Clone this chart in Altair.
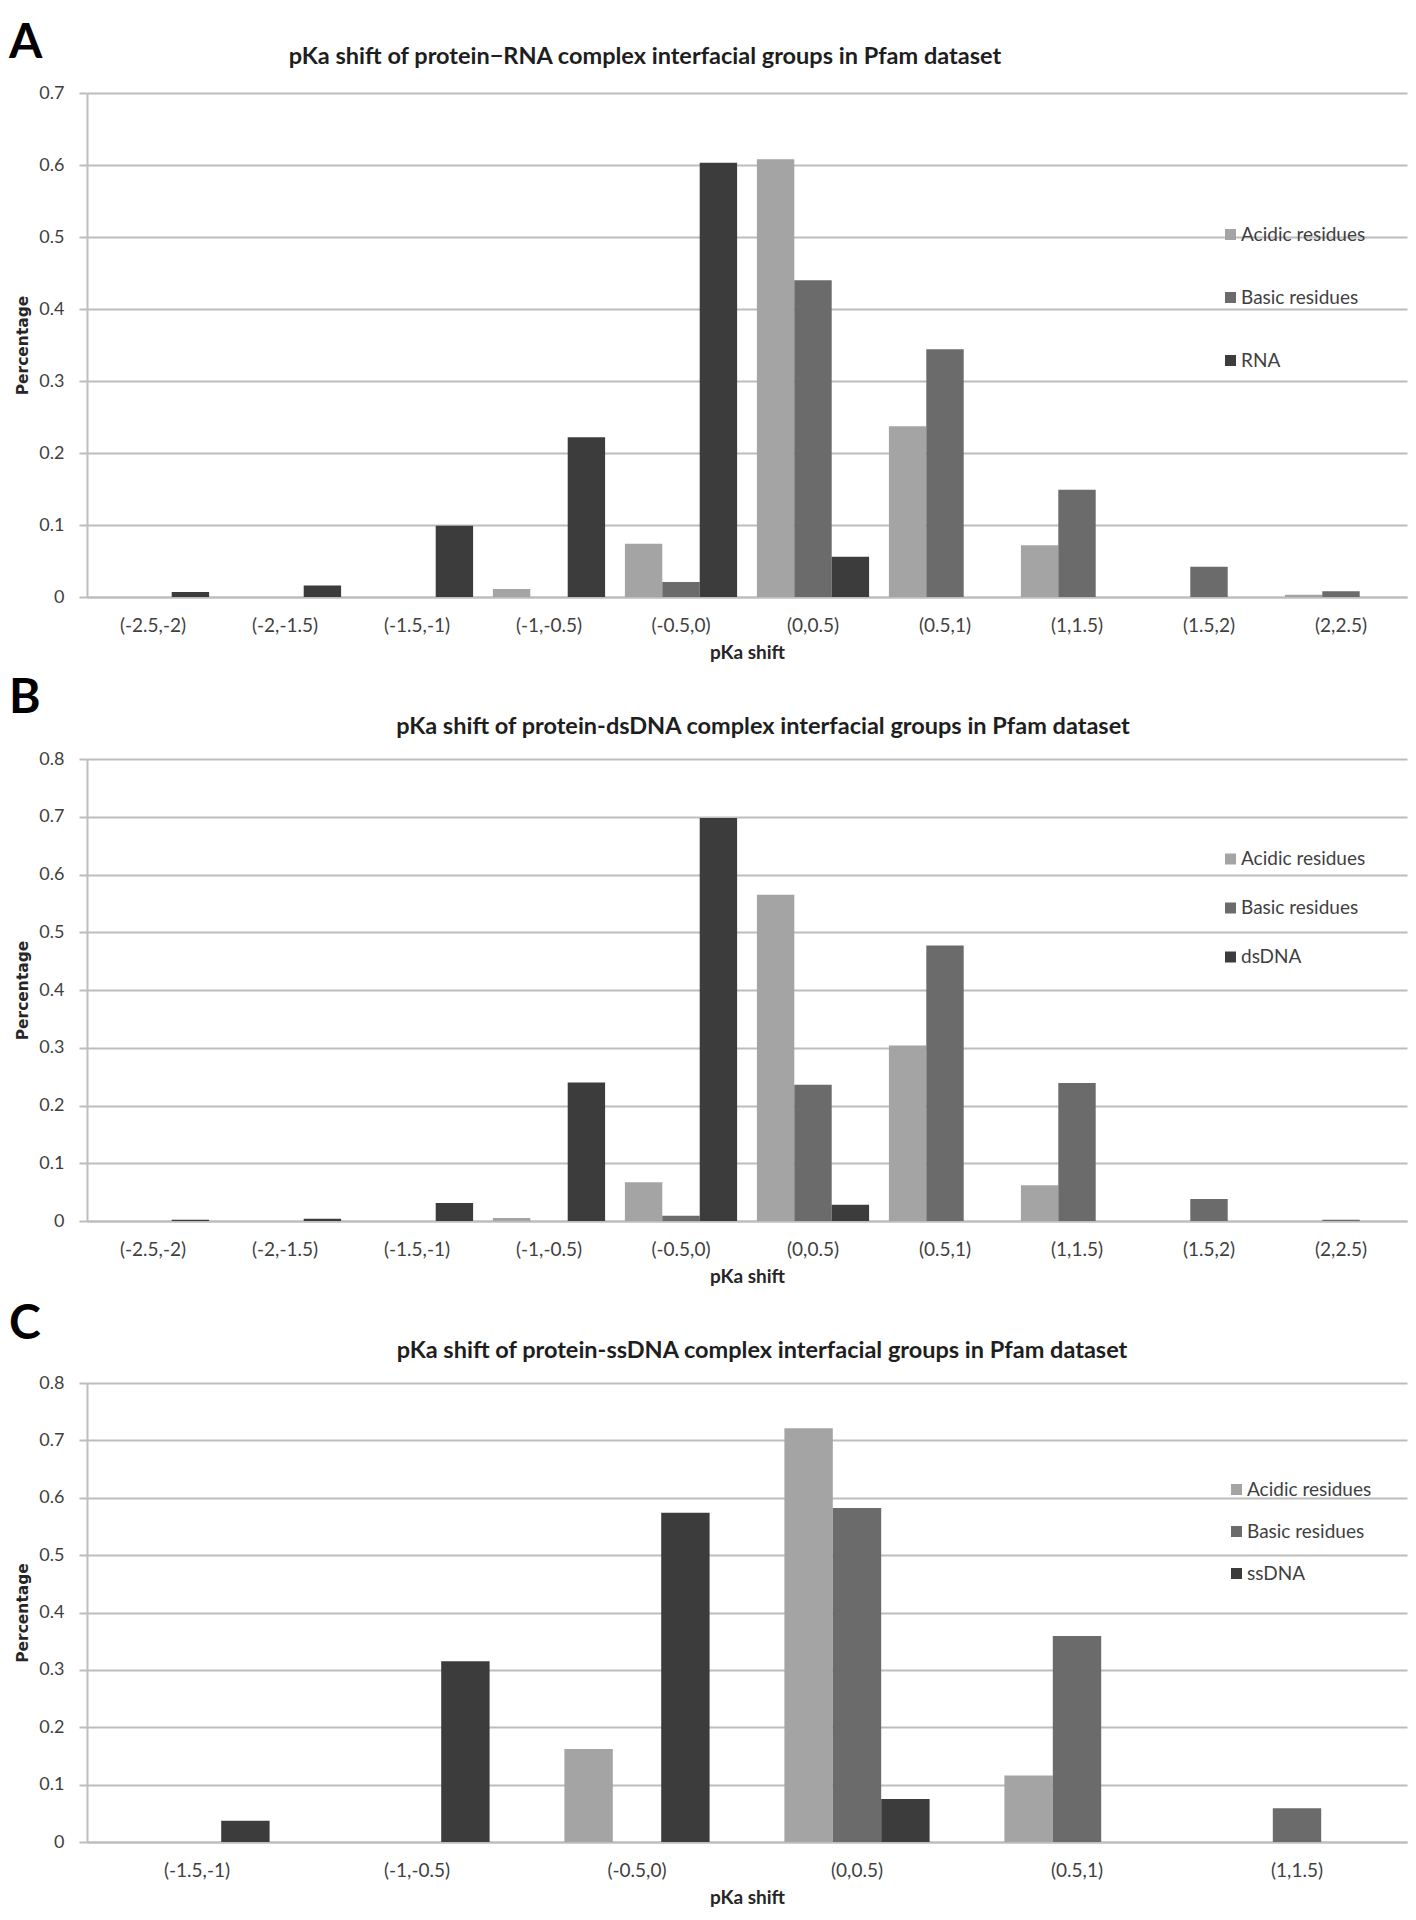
import altair as alt
import pandas as pd

# ---------------- data ----------------
cats_ab = ["(-2.5,-2)", "(-2,-1.5)", "(-1.5,-1)", "(-1,-0.5)", "(-0.5,0)",
           "(0,0.5)", "(0.5,1)", "(1,1.5)", "(1.5,2)", "(2,2.5)"]
cats_c = ["(-1.5,-1)", "(-1,-0.5)", "(-0.5,0)", "(0,0.5)", "(0.5,1)", "(1,1.5)"]

acidic_a = [0, 0, 0, 0.011, 0.074, 0.608, 0.237, 0.072, 0, 0.003]
basic_a = [0, 0, 0, 0, 0.021, 0.440, 0.344, 0.149, 0.042, 0.008]
rna_a = [0.007, 0.016, 0.099, 0.222, 0.603, 0.056, 0, 0, 0, 0]

acidic_b = [0, 0, 0, 0.005, 0.067, 0.565, 0.304, 0.062, 0, 0]
basic_b = [0, 0, 0, 0, 0.009, 0.236, 0.477, 0.239, 0.038, 0.002]
dsdna_b = [0.002, 0.004, 0.031, 0.240, 0.698, 0.028, 0, 0, 0, 0]

acidic_c = [0, 0, 0.162, 0.721, 0.116, 0]
basic_c = [0, 0, 0, 0.582, 0.359, 0.059]
ssdna_c = [0.037, 0.315, 0.574, 0.075, 0, 0]

series_a = ["Acidic residues", "Basic residues", "RNA"]
series_b = ["Acidic residues", "Basic residues", "dsDNA"]
series_c = ["Acidic residues", "Basic residues", "ssDNA"]

ticks_a = [0, 0.1, 0.2, 0.3, 0.4, 0.5, 0.6, 0.7]
ticks_bc = [0, 0.1, 0.2, 0.3, 0.4, 0.5, 0.6, 0.7, 0.8]

title_a = "pKa shift of protein\u2212RNA complex interfacial groups in Pfam dataset"
title_b = "pKa shift of protein-dsDNA complex interfacial groups in Pfam dataset"
title_c = "pKa shift of protein-ssDNA complex interfacial groups in Pfam dataset"

colors = ["#a4a4a4", "#6b6b6b", "#3c3c3c"]
FONT = "Lato"
GRID = "#bdbdbd"
W = 1320


def frame(cats, series, columns):
    rows = []
    for s, vals in zip(series, columns):
        for c, v in zip(cats, vals):
            if v > 0:
                rows.append({"cat": c, "series": s, "value": v})
    return pd.DataFrame(rows)


def panel(cats, series, columns, ymax, ticks, height, pad_inner,
          title, title_x, title_y, letter, letter_y,
          leg_x, leg_y, leg_pad):
    df = frame(cats, series, columns)
    bars = alt.Chart(df).mark_bar(strokeWidth=0).encode(
        x=alt.X("cat:N", sort=cats,
                scale=alt.Scale(domain=cats, paddingInner=pad_inner,
                                paddingOuter=pad_inner / 2),
                axis=alt.Axis(title="pKa shift", labelAngle=0, ticks=False,
                              tickSize=0, labelPadding=19, labelFont=FONT,
                              labelFontSize=19, labelColor="#3f3f3f",
                              titleFont=FONT, titleFontSize=19,
                              titleFontWeight="bold", titleColor="#262626",
                              titlePadding=8, domainColor=GRID,
                              domainWidth=2, grid=False)),
        xOffset=alt.XOffset("series:N", sort=series,
                            scale=alt.Scale(domain=series)),
        y=alt.Y("value:Q",
                scale=alt.Scale(domain=[0, ymax], nice=False, zero=True),
                axis=alt.Axis(title="Percentage", values=ticks,
                              labelExpr="datum.value == 0 ? '0' : format(datum.value, '.1f')",
                              grid=True, gridColor=GRID, gridWidth=2,
                              domainColor=GRID, domainWidth=2,
                              ticks=True, tickSize=8, tickColor=GRID,
                              tickWidth=2, labelPadding=15, labelFont=FONT,
                              labelFontSize=18, labelColor="#3f3f3f",
                              titleFont="DejaVu Sans", titleFontSize=15.5,
                              titleFontWeight="bold", titleColor="#262626",
                              titlePadding=8)),
        color=alt.Color("series:N", sort=series,
                        scale=alt.Scale(domain=series, range=colors),
                        legend=alt.Legend(title=None, orient="none",
                                          legendX=leg_x, legendY=leg_y,
                                          direction="vertical",
                                          symbolType="square",
                                          symbolSize=121,
                                          symbolStrokeWidth=0,
                                          labelFont=FONT, labelFontSize=19,
                                          labelColor="#3f3f3f",
                                          labelOffset=1,
                                          rowPadding=leg_pad)),
    )
    ttl = alt.Chart(pd.DataFrame({"t": [title]})).mark_text(
        font=FONT, fontSize=23.5, fontWeight="bold", color="#1e1e1e",
        align="center", baseline="middle"
    ).encode(text="t:N", x=alt.value(title_x), y=alt.value(title_y))
    let = alt.Chart(pd.DataFrame({"t": [letter]})).mark_text(
        font=FONT, fontSize=48, fontWeight="bold", color="#000000",
        align="left", baseline="alphabetic"
    ).encode(text="t:N", x=alt.value(-78), y=alt.value(letter_y))
    return alt.layer(bars, ttl, let).properties(width=W, height=height)


pa = panel(cats_ab, series_a, [acidic_a, basic_a, rna_a], 0.7, ticks_a, 504,
           0.15, title_a, 558, -36, "A", -35, 1134, 132, 43)
pb = panel(cats_ab, series_b, [acidic_b, basic_b, dsdna_b], 0.8, ticks_bc, 462,
           0.15, title_b, 676, -32, "B", -46, 1134, 90.5, 29)
pc = panel(cats_c, series_c, [acidic_c, basic_c, ssdna_c], 0.8, ticks_bc, 459,
           0.34, title_c, 675, -32, "C", -44, 1140, 97, 22)

chart = alt.vconcat(pa, pb, pc, spacing=162, bounds="flush").resolve_scale(
    color="independent", xOffset="independent", x="independent",
    y="independent"
).resolve_legend(color="independent").properties(
    padding={"top": 11, "left": 0, "right": 0, "bottom": 0},
    background="white"
).configure_view(stroke="transparent")

chart.save("out.html", embed_options={"renderer": "svg", "actions": False})
